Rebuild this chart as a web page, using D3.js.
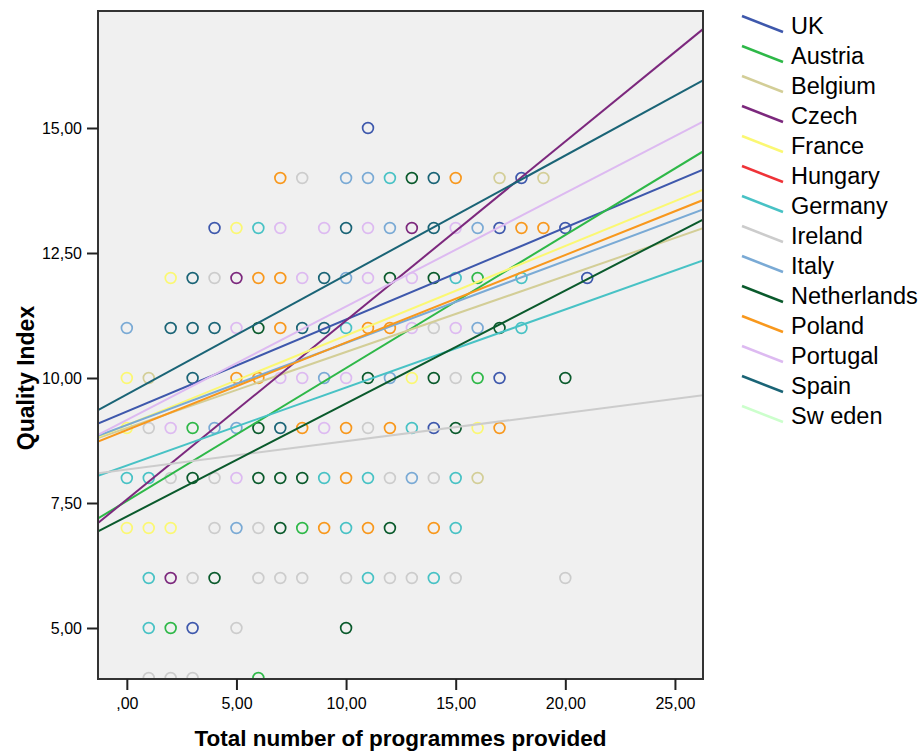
<!DOCTYPE html>
<html>
<head>
<meta charset="utf-8">
<script src="https://cdn.jsdelivr.net/npm/d3@7"></script>
<style>
  body { margin: 0; background: #fff; }
  svg text { font-family: "Liberation Sans", Arial, sans-serif; }
</style>
</head>
<body>
<div id="chart"></div>
<script>
// countries in legend order, with SPSS-ish default colours
const countries = ["UK", "Austria", "Belgium", "Czech", "France", "Hungary", "Germany",
  "Ireland", "Italy", "Netherlands", "Poland", "Portugal", "Spain", "Sweden"];
const colors = ["#3E58AC", "#2EB848", "#D3CE97", "#7C287D", "#FBF873", "#EF3338", "#48C2C5",
  "#CCCCCC", "#7AAAD5", "#0A5A2C", "#F8981D", "#DDBAF1", "#1A6476", "#CCFFCC"];
const legendLabels = ["UK", "Austria", "Belgium", "Czech", "France", "Hungary", "Germany",
  "Ireland", "Italy", "Netherlands", "Poland", "Portugal", "Spain", "Sw eden"];

// fit lines (intercept at x=0, slope); null = no line
const intercepts = [9.33, 7.54, 9.0, 7.57, 9.06, null, 8.25, 8.17, 9.06, 7.23, 8.96, 9.16, 9.67, null];
const slopes = [0.184, 0.266, 0.152, 0.358, 0.179, null, 0.156, 0.0565, 0.164, 0.226, 0.175, 0.227, 0.239, null];

// observed points per country: [programmes, quality]
const ukPts = [[11,15],[18,14],[4,13],[17,13],[20,13],[21,12],[17,10],[14,9],[3,5]];
const austriaPts = [[16,12],[16,10],[3,9],[8,7],[2,5],[6,4]];
const belgiumPts = [[17,14],[19,14],[1,10],[16,8]];
const czechPts = [[13,13],[5,12],[2,6]];
const francePts = [[5,13],[2,12],[0,10],[13,10],[0,9],[16,9],[0,7],[1,7],[2,7]];
const hungaryPts = [];
const germanyPts = [[12,14],[6,13],[15,12],[18,12],[10,11],[18,11],[13,9],[0,8],[1,8],[9,8],[11,8],[15,8],
  [10,7],[15,7],[1,6],[11,6],[14,6],[1,5]];
const irelandPts = [[8,14],[4,12],[14,11],[15,10],[1,9],[11,9],[2,8],[4,8],[12,8],[14,8],[4,7],[6,7],
  [3,6],[6,6],[7,6],[8,6],[10,6],[12,6],[13,6],[15,6],[20,6],[5,5],[1,4],[2,4],[3,4]];
const italyPts = [[10,14],[11,14],[12,13],[16,13],[10,12],[0,11],[16,11],[9,10],[12,10],[4,9],[5,9],[13,8],[5,7]];
const netherlandsPts = [[13,14],[12,12],[14,12],[6,11],[17,11],[11,10],[14,10],[20,10],[6,9],[15,9],
  [3,8],[6,8],[7,8],[8,8],[7,7],[12,7],[4,6],[10,5]];
const polandPts = [[7,14],[15,14],[18,13],[19,13],[6,12],[7,12],[7,11],[11,11],[12,11],[5,10],[6,10],
  [8,9],[10,9],[12,9],[17,9],[10,8],[9,7],[11,7],[14,7]];
const portugalPts = [[7,13],[9,13],[11,13],[15,13],[8,12],[11,12],[13,12],[5,11],[13,11],[15,11],
  [7,10],[8,10],[10,10],[2,9],[9,9],[5,8]];
const spainPts = [[14,14],[10,13],[14,13],[3,12],[9,12],[2,11],[3,11],[4,11],[8,11],[9,11],[3,10],[7,9]];
const swedenPts = [];
const countryPts = [ukPts, austriaPts, belgiumPts, czechPts, francePts, hungaryPts, germanyPts,
  irelandPts, italyPts, netherlandsPts, polandPts, portugalPts, spainPts, swedenPts];

const xTicks = [0, 5, 10, 15, 20, 25];
const yTicks = [5, 7.5, 10, 12.5, 15];

const width = 924, height = 751;
const plot = { left: 98, top: 11, right: 703, bottom: 679 };

const svg = d3.select("#chart").append("svg")
  .attr("width", width)
  .attr("height", height);

const x = d3.scaleLinear().domain([-1.315, 26.28]).range([plot.left, plot.right]);
const y = d3.scaleLinear().domain([3.98, 17.34]).range([plot.bottom, plot.top]);

const loc = d3.formatLocale({ decimal: ",", thousands: ".", grouping: [3], currency: ["", ""] });
const fmt = v => { const s = loc.format(".2f")(v); return s.startsWith("0,") ? s.slice(1) : s; };

// background
svg.append("rect")
  .attr("x", plot.left).attr("y", plot.top)
  .attr("width", plot.right - plot.left).attr("height", plot.bottom - plot.top)
  .attr("fill", "#F0F0F0");

svg.append("clipPath").attr("id", "clip")
  .append("rect")
  .attr("x", plot.left).attr("y", plot.top)
  .attr("width", plot.right - plot.left).attr("height", plot.bottom - plot.top);

const inner = svg.append("g").attr("clip-path", "url(#clip)");

// points
countries.forEach((c, i) => {
  inner.append("g").selectAll("circle")
    .data(countryPts[i])
    .enter()
    .append("circle")
    .attr("cx", d => x(d[0]))
    .attr("cy", d => y(d[1]))
    .attr("r", 5.4)
    .attr("fill", "none")
    .attr("stroke", colors[i])
    .attr("stroke-width", 1.7);
});

// regression lines
const xd = x.domain();
countries.forEach((c, i) => {
  if (intercepts[i] == null) return;
  const a = intercepts[i], b = slopes[i];
  inner.append("line")
    .attr("x1", x(xd[0])).attr("y1", y(a + b * xd[0]))
    .attr("x2", x(xd[1])).attr("y2", y(a + b * xd[1]))
    .attr("stroke", colors[i])
    .attr("stroke-width", 2);
});

// frame
svg.append("rect")
  .attr("x", plot.left).attr("y", plot.top)
  .attr("width", plot.right - plot.left).attr("height", plot.bottom - plot.top)
  .attr("fill", "none")
  .attr("stroke", "#333")
  .attr("stroke-width", 2);

// axes
const xAxis = svg.append("g")
  .attr("transform", `translate(0,${plot.bottom})`)
  .call(d3.axisBottom(x).tickValues(xTicks).tickFormat(fmt).tickSize(11).tickSizeOuter(0).tickPadding(8));
const yAxis = svg.append("g")
  .attr("transform", `translate(${plot.left},0)`)
  .call(d3.axisLeft(y).tickValues(yTicks).tickFormat(fmt).tickSize(11).tickSizeOuter(0).tickPadding(5));

[xAxis, yAxis].forEach(g => {
  g.select(".domain").remove();
  g.selectAll(".tick line").attr("stroke", "#222").attr("stroke-width", 2);
  g.selectAll(".tick text")
    .attr("fill", "#000")
    .style("font-size", "16px")
    .style("font-family", "'Liberation Sans', Arial, sans-serif");
});

svg.append("text")
  .attr("x", (plot.left + plot.right) / 2)
  .attr("y", 746)
  .attr("text-anchor", "middle")
  .style("font-size", "22.5px")
  .style("font-weight", "bold")
  .text("Total number of programmes provided");

svg.append("text")
  .attr("transform", "translate(34,378) rotate(-90)")
  .attr("text-anchor", "middle")
  .style("font-size", "23px")
  .style("font-weight", "bold")
  .text("Quality Index");

// legend
const legend = svg.append("g");
countries.forEach((c, i) => {
  const cy = 26 + i * 30;
  legend.append("line")
    .attr("x1", 742).attr("y1", cy - 10)
    .attr("x2", 783).attr("y2", cy + 6)
    .attr("stroke", colors[i])
    .attr("stroke-width", 2.5);
  legend.append("text")
    .attr("x", 791)
    .attr("y", cy + 8)
    .style("font-size", "23.5px")
    .text(legendLabels[i]);
});
</script>
</body>
</html>
